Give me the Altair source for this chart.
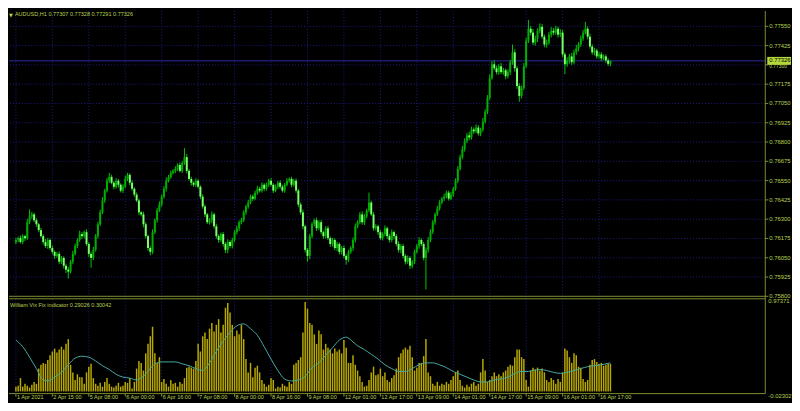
import altair as alt
import pandas as pd

# ---------------- data ----------------
title_main = "AUDUSD,H1  0.77307 0.77328 0.77291 0.77326"
title_ind = "William Vix Fix indicator 0.29026 0.30042"

first_open = 0.76150
close = [
    0.76165, 0.76177, 0.76152, 0.76190, 0.76177, 0.76280, 0.76318, 0.76331, 0.76293, 0.76267,
    0.76229, 0.76190, 0.76152, 0.76126, 0.76165, 0.76113, 0.76088, 0.76062, 0.76075, 0.76024,
    0.76049, 0.75998, 0.75973, 0.75960, 0.76024, 0.76075, 0.76126, 0.76165, 0.76203, 0.76190,
    0.76216, 0.76139, 0.76075, 0.76049, 0.76101, 0.76190, 0.76267, 0.76344, 0.76421, 0.76485,
    0.76549, 0.76574, 0.76536, 0.76510, 0.76549, 0.76523, 0.76485, 0.76510, 0.76561, 0.76587,
    0.76536, 0.76497, 0.76459, 0.76421, 0.76344, 0.76331, 0.76267, 0.76190, 0.76113, 0.76088,
    0.76216, 0.76293, 0.76357, 0.76395, 0.76446, 0.76497, 0.76549, 0.76574, 0.76600,
    0.76613, 0.76625, 0.76651, 0.76613, 0.76664, 0.76702, 0.76613, 0.76561, 0.76536, 0.76523,
    0.76549, 0.76510, 0.76446, 0.76382, 0.76331, 0.76280, 0.76293, 0.76331, 0.76254, 0.76190,
    0.76165, 0.76203, 0.76139, 0.76101, 0.76152, 0.76126, 0.76165, 0.76216, 0.76241, 0.76280,
    0.76293, 0.76344, 0.76382, 0.76408, 0.76446, 0.76433, 0.76472, 0.76497, 0.76485, 0.76523,
    0.76497, 0.76523, 0.76549, 0.76523, 0.76485, 0.76510, 0.76536, 0.76510, 0.76485, 0.76523,
    0.76549, 0.76561, 0.76523, 0.76549, 0.76485, 0.76395, 0.76344, 0.76254, 0.76101, 0.76062,
    0.76190, 0.76267, 0.76293, 0.76241, 0.76280, 0.76216, 0.76190, 0.76241, 0.76177, 0.76139,
    0.76165, 0.76113, 0.76139, 0.76088, 0.76113, 0.76062, 0.76037, 0.76088, 0.76113, 0.76165,
    0.76254, 0.76280, 0.76331, 0.76280, 0.76318, 0.76357, 0.76408, 0.76331, 0.76241,
    0.76254, 0.76216, 0.76177, 0.76203, 0.76241, 0.76190, 0.76165, 0.76216, 0.76190, 0.76139,
    0.76101, 0.76126, 0.76062, 0.76024, 0.76049, 0.75998, 0.76024, 0.76088, 0.76126, 0.76165,
    0.76139, 0.76049, 0.76101, 0.76165, 0.76216, 0.76280, 0.76331, 0.76369, 0.76408, 0.76433,
    0.76446, 0.76472, 0.76433, 0.76459, 0.76497, 0.76549, 0.76625, 0.76702, 0.76753, 0.76805,
    0.76843, 0.76830, 0.76881, 0.76869, 0.76894, 0.76856, 0.76881, 0.76933, 0.76997, 0.77086,
    0.77214, 0.77304, 0.77278, 0.77253, 0.77291, 0.77253, 0.77265, 0.77227, 0.77253, 0.77317,
    0.77381, 0.77278, 0.77163, 0.77099, 0.77150, 0.77291, 0.77457, 0.77534, 0.77509, 0.77445,
    0.77470, 0.77521, 0.77547, 0.77483, 0.77432, 0.77445, 0.77496, 0.77521, 0.77509,
    0.77534, 0.77496, 0.77509, 0.77368, 0.77304, 0.77329, 0.77355, 0.77317, 0.77381, 0.77406,
    0.77432, 0.77470, 0.77509, 0.77534, 0.77483, 0.77419, 0.77381, 0.77393, 0.77355, 0.77368,
    0.77342, 0.77355, 0.77329, 0.77307, 0.77326,
]

# wick lengths beyond the body, in points (0.00001)
upper_wick = [
    14, 10, 18, 12, 9, 22, 45, 16, 11, 13,
    8, 15, 12, 20, 14, 10, 17, 9, 13, 16,
    12, 10, 14, 18, 11, 20, 16, 12, 22, 15,
    10, 18, 12, 14, 20, 13, 16, 18, 22, 12,
    19, 26, 14, 10, 17, 12, 9, 15, 20, 13,
    11, 16, 10, 14, 12, 9, 17, 13, 10, 15,
    18, 12, 16, 20, 14, 17, 22, 13, 15, 12,
    18, 10, 16, 12, 58, 20, 11, 14, 9, 16,
    12, 10, 15, 13, 9, 14, 18, 11, 16, 12,
    10, 14, 12, 17, 11, 15, 13, 18, 12, 16,
    14, 11, 17, 12, 15, 13, 20, 12, 16, 10,
    14, 12, 18, 10, 15, 11, 16, 13, 12, 17,
    10, 14, 12, 15, 11, 13, 18, 10, 12, 16,
    14, 11, 17, 12, 15, 10, 13, 16, 11, 14,
    12, 15, 10, 13, 17, 11, 14, 12, 16, 18,
    12, 15, 20, 14, 11, 64, 12, 16, 13, 10,
    15, 12, 18, 11, 14, 16, 10, 13, 17, 12,
    14, 11, 16, 12, 10, 15, 13, 18, 11, 14,
    16, 20, 18, 14, 12, 17, 15, 11, 19, 13,
    14, 18, 12, 16, 20, 17, 22, 19, 15, 24,
    18, 14, 20, 16, 12, 22, 15, 18, 24, 20,
    26, 18, 14, 22, 16, 12, 18, 15, 51, 20,
    14, 18, 16, 22, 20, 58, 18, 24, 20, 16,
    22, 18, 14, 20, 16, 24, 18, 20, 15, 22,
    18, 14, 20, 16, 22, 18, 24, 15, 20, 18,
    45, 16, 20, 14, 18, 12, 16, 15, 13, 12,
    14, 2,
]
lower_wick = [
    12, 16, 10, 14, 18, 11, 13, 15, 12, 17,
    14, 10, 16, 12, 18, 13, 15, 20, 12, 16,
    14, 18, 22, 45, 12, 16, 10, 14, 12, 18,
    15, 12, 20, 64, 14, 10, 16, 12, 11, 15,
    12, 14, 10, 16, 13, 18, 12, 15, 10, 14,
    16, 12, 14, 10, 18, 13, 20, 15, 18, 22,
    14, 12, 16, 10, 14, 12, 18, 11, 13, 10,
    15, 12, 10, 14, 12, 16, 11, 18, 13, 15,
    12, 16, 14, 18, 12, 15, 20, 14, 16, 18,
    13, 17, 20, 22, 14, 16, 12, 15, 18, 14,
    12, 16, 14, 11, 15, 10, 14, 12, 13, 16,
    11, 14, 12, 16, 10, 15, 13, 12, 14, 10,
    13, 16, 12, 14, 18, 15, 20, 17, 38, 22,
    16, 14, 18, 12, 15, 17, 14, 12, 18, 16,
    14, 20, 16, 18, 15, 32, 14, 12, 18, 16,
    14, 12, 16, 18, 14, 12, 10, 16, 14, 18,
    12, 15, 14, 18, 16, 14, 20, 15, 17, 22,
    16, 18, 14, 20, 16, 15, 12, 18, 14, 16,
    205, 18, 14, 12, 16, 10, 14, 12, 15, 11,
    13, 10, 14, 12, 16, 11, 13, 15, 12, 18,
    14, 16, 12, 15, 18, 14, 12, 16, 13, 10,
    12, 15, 18, 14, 16, 20, 14, 18, 16, 22,
    18, 38, 16, 14, 12, 15, 18, 16, 20, 22,
    16, 14, 18, 20, 15, 18, 16, 14, 20, 16,
    18, 64, 16, 20, 18, 14, 16, 18, 15, 14,
    12, 18, 14, 16, 20, 15, 14, 18, 12, 16,
    14, 16,
]

vix = [
    0.05, 0.06, 0.14, 0.05, 0.08, 0.06, 0.04, 0.07, 0.10, 0.08,
    0.24, 0.28, 0.30, 0.29, 0.33, 0.38, 0.42, 0.45, 0.41, 0.44,
    0.47, 0.44, 0.50, 0.55, 0.28, 0.20, 0.12, 0.18, 0.15, 0.15,
    0.08, 0.20, 0.26, 0.29, 0.14, 0.08, 0.06, 0.09, 0.05, 0.10,
    0.14, 0.08, 0.05, 0.04, 0.06, 0.09, 0.05, 0.06, 0.10, 0.09,
    0.14, 0.03, 0.10, 0.24, 0.32, 0.30, 0.22, 0.40, 0.50, 0.58,
    0.68, 0.40, 0.30, 0.36, 0.10, 0.13, 0.08, 0.05, 0.12,
    0.08, 0.09, 0.05, 0.10, 0.08, 0.14, 0.25, 0.26, 0.25, 0.24,
    0.32, 0.50, 0.42, 0.58, 0.62, 0.55, 0.66, 0.72, 0.63, 0.70,
    0.76, 0.62, 0.70, 0.88, 0.93, 0.83, 0.70, 0.58, 0.64, 0.60,
    0.70, 0.55, 0.34, 0.20, 0.30, 0.15, 0.25, 0.27, 0.20, 0.12,
    0.08, 0.05, 0.07, 0.14, 0.12, 0.03, 0.05, 0.04, 0.08, 0.06,
    0.05, 0.10, 0.08, 0.28, 0.30, 0.33, 0.36, 0.62, 0.94, 0.87,
    0.72, 0.70, 0.60, 0.50, 0.64, 0.60, 0.44, 0.50, 0.46, 0.44,
    0.40, 0.45, 0.42, 0.44, 0.40, 0.54, 0.46, 0.30, 0.30, 0.38,
    0.28, 0.22, 0.16, 0.10, 0.05, 0.06, 0.12, 0.20, 0.26,
    0.17, 0.18, 0.24, 0.16, 0.20, 0.12, 0.10, 0.14, 0.17, 0.24,
    0.36, 0.40, 0.44, 0.46, 0.44, 0.48, 0.36, 0.22, 0.25, 0.30,
    0.30, 0.37, 0.55, 0.20, 0.16, 0.08, 0.06, 0.10, 0.06, 0.08,
    0.07, 0.10, 0.08, 0.12, 0.16, 0.20, 0.22, 0.12, 0.06, 0.04,
    0.07, 0.05, 0.08, 0.10, 0.06, 0.08, 0.20, 0.34, 0.22, 0.10,
    0.12, 0.16, 0.20, 0.16, 0.18, 0.16, 0.20, 0.22, 0.26, 0.28,
    0.27, 0.36, 0.44, 0.44, 0.36, 0.34, 0.12, 0.05, 0.22, 0.25,
    0.23, 0.25, 0.22, 0.24, 0.20, 0.12, 0.10, 0.14, 0.12,
    0.08, 0.13, 0.10, 0.20, 0.45, 0.43, 0.36, 0.30, 0.40, 0.38,
    0.26, 0.25, 0.13, 0.10, 0.12, 0.28, 0.33, 0.34, 0.31, 0.29,
    0.30, 0.27, 0.28, 0.29, 0.29026,
]

signal_idx = [0, 3, 6, 9, 12, 14, 17, 20, 23, 26, 29, 32, 35, 38, 41, 44, 47, 50, 53, 56,
              59, 61, 64, 67, 70, 73, 76, 79, 82, 85, 88, 91, 94, 97, 100, 103, 106, 109, 112, 115,
              118, 121, 124, 127, 130, 133, 136, 139, 142, 145, 148, 150, 153, 156, 159, 162, 165, 168, 171, 174,
              177, 180, 183, 186, 189, 192, 195, 198, 201, 204, 207, 210, 213, 216, 219, 222, 225, 227, 230, 233,
              236, 239, 242, 245, 248, 251, 254, 257, 260, 261]
signal_val = [0.54, 0.47, 0.36, 0.24, 0.12, 0.11, 0.15, 0.20, 0.28, 0.35, 0.37, 0.36, 0.32, 0.27, 0.23, 0.18, 0.15, 0.14, 0.12, 0.16,
              0.24, 0.29, 0.31, 0.31, 0.31, 0.29, 0.27, 0.24, 0.22, 0.30, 0.42, 0.53, 0.62, 0.69, 0.71, 0.66, 0.59, 0.47, 0.34, 0.22,
              0.13, 0.11, 0.12, 0.16, 0.25, 0.30, 0.38, 0.46, 0.54, 0.57, 0.52, 0.48, 0.44, 0.39, 0.34, 0.28, 0.24, 0.21, 0.21, 0.24,
              0.28, 0.30, 0.30, 0.28, 0.25, 0.21, 0.18, 0.15, 0.12, 0.10, 0.10, 0.12, 0.13, 0.15, 0.19, 0.21, 0.21, 0.22, 0.23, 0.22,
              0.20, 0.19, 0.20, 0.22, 0.24, 0.26, 0.27, 0.28, 0.295, 0.30042]

time_tick_idx = [0, 16, 32, 48, 64, 80, 96, 112, 128, 144, 160, 176, 192, 208, 224, 240, 256]
time_tick_lab = ["1 Apr 2021", "2 Apr 15:00", "5 Apr 08:00", "6 Apr 00:00", "6 Apr 16:00",
                 "7 Apr 08:00", "8 Apr 00:00", "8 Apr 16:00", "9 Apr 08:00", "12 Apr 01:00",
                 "12 Apr 17:00", "13 Apr 09:00", "14 Apr 01:00", "14 Apr 17:00", "15 Apr 09:00",
                 "16 Apr 01:00", "16 Apr 17:00"]
# price labels on the right scale (0.77300 sits partly under the current-price box)
price_ticks = [0.758, 0.75925, 0.7605, 0.76175, 0.763, 0.76425, 0.7655, 0.76675, 0.768,
               0.76925, 0.7705, 0.77175, 0.77425, 0.7755]
price_tick_lab = ["0.75800", "0.75925", "0.76050", "0.76175", "0.76300", "0.76425", "0.76550",
                  "0.76675", "0.76800", "0.76925", "0.77050", "0.77175", "0.77425", "0.77550"]
hidden_tick = 0.773
hidden_tick_lab = "0.77300"
last_price = 0.77326
last_price_lab = "0.77326"
ind_max = 0.97371
ind_min = -0.02302
ind_lab = ["0.97371", "-0.02302"]

assert len(close) == len(upper_wick) == len(lower_wick) == len(vix)
assert len(signal_idx) == len(signal_val)

# ---------------- tables ----------------
n = len(close)
opens = [first_open] + close[:-1]
df = pd.DataFrame({
    "i": list(range(n)),
    "open": opens,
    "close": close,
    "high": [max(o, c) + u / 1e5 for o, c, u in zip(opens, close, upper_wick)],
    "low": [min(o, c) - l / 1e5 for o, c, l in zip(opens, close, lower_wick)],
    "dir": ["up" if c >= o else "down" for o, c in zip(opens, close)],
    "vix": vix,
})
sig = pd.DataFrame({"i": signal_idx, "v": signal_val})
ticks = pd.DataFrame({"t": time_tick_idx, "lab": time_tick_lab})
pticks = pd.DataFrame({"p": price_ticks, "lab": price_tick_lab})
all_pticks = pd.DataFrame({"p": price_ticks + [hidden_tick]})

# ---------------- style ----------------
BG = "#000000"
OLIVE = "#7c8f2c"
TXT = "#b8d050"
GRID = "#1c1c86"
FONT = "Liberation Sans"
FS = 6
FS_SMALL = 5.6

xs = alt.Scale(domain=[-0.86, 326.8], nice=False, zero=False)
ps = alt.Scale(domain=[0.751214, 0.776494], nice=False, zero=False)
vs = alt.Scale(domain=[-0.10089, 4.00024], nice=False, zero=False)

X = alt.X("i:Q", scale=xs, axis=None)
base = alt.Chart(df)

# ---------------- main (price) panel ----------------
hgrid = alt.Chart(all_pticks).mark_rule(color=GRID, strokeDash=[1, 2], strokeWidth=1).encode(
    y=alt.Y("p:Q", scale=ps, axis=None)
)
vgrid_main = alt.Chart(ticks).mark_rule(color=GRID, strokeDash=[1, 2], strokeWidth=1).encode(
    x=alt.X("t:Q", scale=xs, axis=None),
    y=alt.YDatum(0.77649, scale=ps, axis=None),
    y2=alt.Y2Datum(0.758),
)
bid_line = alt.Chart(pd.DataFrame({"p": [last_price]})).mark_rule(color="#2a2aa8", strokeWidth=1).encode(
    y=alt.Y("p:Q", scale=ps, axis=None)
)
wicks = base.mark_rule(color="#00c800", strokeWidth=1).encode(
    x=X,
    y=alt.Y("low:Q", scale=ps, axis=None),
    y2="high:Q",
)
bodies = base.mark_bar(size=2).encode(
    x=X,
    y=alt.Y("open:Q", scale=ps, axis=None),
    y2="close:Q",
    color=alt.Color("dir:N", scale=alt.Scale(domain=["up", "down"], range=["#00b000", "#7cff6c"]), legend=None),
)
main_bottom = alt.Chart(pd.DataFrame({"p": [0.758]})).mark_rule(color=OLIVE, strokeWidth=1).encode(
    y=alt.Y("p:Q", scale=ps, axis=None)
)
price_tick_marks = alt.Chart(all_pticks).mark_rule(color=OLIVE, strokeWidth=1).encode(
    x=alt.value({"expr": "width"}),
    x2=alt.value({"expr": "width + 3"}),
    y=alt.Y("p:Q", scale=ps, axis=None),
)
price_labels = alt.Chart(pticks).mark_text(
    color=TXT, font=FONT, fontSize=FS, align="left", baseline="middle"
).encode(
    x=alt.value({"expr": "width + 4"}),
    y=alt.Y("p:Q", scale=ps, axis=None),
    text="lab:N",
)
hidden_label = alt.Chart(pd.DataFrame({"p": [hidden_tick], "lab": [hidden_tick_lab]})).mark_text(
    color=TXT, font=FONT, fontSize=5, align="left", baseline="top", dy=-0.5
).encode(
    x=alt.value({"expr": "width + 4"}),
    y=alt.Y("p:Q", scale=ps, axis=None),
    text="lab:N",
)
price_box = alt.Chart(pd.DataFrame({"p": [last_price]})).mark_rect(
    color="#b4d83c", width=24, height=8
).encode(
    x=alt.value({"expr": "width + 14"}),
    y=alt.Y("p:Q", scale=ps, axis=None),
)
price_box_txt = alt.Chart(pd.DataFrame({"p": [last_price], "s": [last_price_lab]})).mark_text(
    color="#000000", font=FONT, fontSize=FS, align="left", baseline="middle", dy=-0.5
).encode(
    x=alt.value({"expr": "width + 4"}),
    y=alt.Y("p:Q", scale=ps, axis=None),
    text="s:N",
)
main_title = alt.Chart(pd.DataFrame({"s": [title_main]})).mark_text(
    color=TXT, font=FONT, fontSize=FS_SMALL, align="left", baseline="top"
).encode(x=alt.value(6), y=alt.value(1.5), text="s:N")
main_tri = alt.Chart(pd.DataFrame({"s": ["\u25bc"]})).mark_text(
    color="#c8d040", font="DejaVu Sans", fontSize=5, align="left", baseline="top"
).encode(x=alt.value(0), y=alt.value(2), text="s:N")

main = alt.layer(hgrid, vgrid_main, bid_line, wicks, bodies, main_bottom,
                 price_tick_marks, price_labels, hidden_label, price_box, price_box_txt,
                 main_title, main_tri)

# ---------------- indicator panel ----------------
vgrid_ind = alt.Chart(ticks).mark_rule(color=GRID, strokeDash=[1, 2], strokeWidth=1).encode(
    x=alt.X("t:Q", scale=xs, axis=None),
    y=alt.YDatum(ind_max, scale=vs, axis=None),
    y2=alt.Y2Datum(ind_min),
)
vbars = base.mark_bar(size=1.5, color="#b8a800").encode(
    x=X,
    y=alt.Y("vix:Q", scale=vs, axis=None),
    y2=alt.Y2Datum(0),
)
vline = alt.Chart(sig).mark_line(color="#48aaa4", strokeWidth=1, interpolate="monotone").encode(
    x=alt.X("i:Q", scale=xs, axis=None),
    y=alt.Y("v:Q", scale=vs, axis=None),
)
ind_frame = alt.Chart(pd.DataFrame({"v": [ind_max, ind_min]})).mark_rule(color=OLIVE, strokeWidth=1).encode(
    y=alt.Y("v:Q", scale=vs, axis=None)
)
right_frame = alt.Chart(pd.DataFrame({"a": [4.0], "b": [ind_min]})).mark_rule(color=OLIVE, strokeWidth=1).encode(
    x=alt.value({"expr": "width"}),
    y=alt.Y("a:Q", scale=vs, axis=None),
    y2="b:Q",
)
ind_labels = alt.Chart(pd.DataFrame({"v": [ind_max, ind_min], "s": ind_lab})).mark_text(
    color=TXT, font=FONT, fontSize=FS, align="left", baseline="middle", dy=2
).encode(
    x=alt.value({"expr": "width + 3"}),
    y=alt.Y("v:Q", scale=vs, axis=None),
    text="s:N",
)
ind_title = alt.Chart(pd.DataFrame({"s": [title_ind]})).mark_text(
    color=TXT, font=FONT, fontSize=FS_SMALL, align="left", baseline="middle"
).encode(x=alt.value(1), y=alt.value(297), text="s:N")
time_ticks = alt.Chart(ticks).mark_rule(color=OLIVE, strokeWidth=1).encode(
    x=alt.X("t:Q", scale=xs, axis=None),
    y=alt.YDatum(ind_min, scale=vs, axis=None),
    y2=alt.Y2Datum(-0.055),
)
time_labels = alt.Chart(ticks).mark_text(
    color=TXT, font=FONT, fontSize=FS_SMALL, align="left", baseline="alphabetic", dx=1
).encode(
    x=alt.X("t:Q", scale=xs, axis=None),
    y=alt.YDatum(-0.083, scale=vs, axis=None),
    text="lab:N",
)

ind = alt.layer(vgrid_ind, vbars, vline, ind_frame, right_frame, ind_labels, ind_title,
                time_ticks, time_labels)

chart = alt.layer(main, ind).resolve_scale(y="independent").properties(
    width=792, height=395, padding=0,
    autosize=alt.AutoSizeParams(type="fit", contains="padding"),
    background=BG,
).configure_view(strokeWidth=0)

chart.save("out.html", embed_options={"renderer": "svg", "actions": False})
